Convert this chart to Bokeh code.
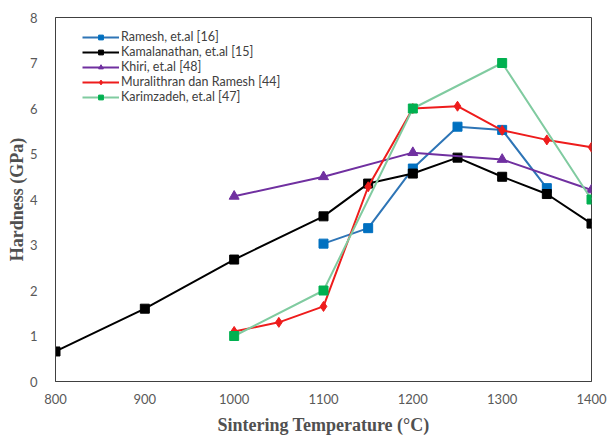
from bokeh.plotting import figure
from bokeh.models import Legend, LegendItem, Range1d, FixedTicker
from bokeh.embed import file_html
from bokeh.resources import INLINE

ramesh_x = [1100, 1150, 1200, 1250, 1300, 1350]
ramesh_y = [3.03, 3.37, 4.68, 5.60, 5.53, 4.25]

kamal_x = [800, 900, 1000, 1100, 1150, 1200, 1250, 1300, 1350, 1400]
kamal_y = [0.66, 1.60, 2.68, 3.63, 4.35, 4.57, 4.92, 4.50, 4.12, 3.47]

khiri_x = [1000, 1100, 1200, 1300, 1400]
khiri_y = [4.07, 4.50, 5.03, 4.88, 4.21]

mural_x = [1000, 1050, 1100, 1150, 1200, 1250, 1300, 1350, 1400]
mural_y = [1.10, 1.30, 1.65, 4.28, 6.00, 6.05, 5.52, 5.31, 5.15]

karim_x = [1000, 1100, 1200, 1300, 1400]
karim_y = [1.00, 2.00, 6.00, 7.00, 4.00]

x_ticks = [800, 900, 1000, 1100, 1200, 1300, 1400]
y_ticks = [0, 1, 2, 3, 4, 5, 6, 7, 8]

p = figure(frame_width=536, frame_height=364, output_backend="svg", toolbar_location=None,
           x_range=Range1d(800, 1400), y_range=Range1d(0, 8),
           min_border_left=55, min_border_right=16, min_border_top=17, min_border_bottom=56)
p.xgrid.visible = False
p.ygrid.visible = False
p.outline_line_color = "#404040"
p.outline_line_width = 1

items = []
r1 = p.line(ramesh_x, ramesh_y, line_color="#2e75b6", line_width=2)
m1 = p.scatter(ramesh_x, ramesh_y, marker="square", size=9, fill_color="#0070c0", line_color="#0070c0")
items.append(LegendItem(label="Ramesh, et.al [16]", renderers=[r1, m1]))
r2 = p.line(kamal_x, kamal_y, line_color="#000000", line_width=2)
m2 = p.scatter(kamal_x, kamal_y, marker="square", size=9, fill_color="#000000", line_color="#000000")
items.append(LegendItem(label="Kamalanathan, et.al [15]", renderers=[r2, m2]))
r3 = p.line(khiri_x, khiri_y, line_color="#7030a0", line_width=2)
m3 = p.scatter(khiri_x, khiri_y, marker="triangle", size=10, fill_color="#7030a0", line_color="#7030a0")
items.append(LegendItem(label="Khiri, et.al [48]", renderers=[r3, m3]))
r4 = p.line(mural_x, mural_y, line_color="#ee1c1c", line_width=2)
m4 = p.scatter(mural_x, mural_y, marker="diamond", size=10, fill_color="#ee1c1c", line_color="#ee1c1c")
items.append(LegendItem(label="Muralithran dan Ramesh [44]", renderers=[r4, m4]))
r5 = p.line(karim_x, karim_y, line_color="#80cba0", line_width=2)
m5 = p.scatter(karim_x, karim_y, marker="square", size=9, fill_color="#00b050", line_color="#00b050")
items.append(LegendItem(label="Karimzadeh, et.al [47]", renderers=[r5, m5]))

legend = Legend(items=items, location=(27, 277))
legend.border_line_color = None
legend.background_fill_alpha = 0
legend.label_text_font = "Lato"
legend.label_text_font_size = "12.5px"
legend.label_text_color = "#404040"
legend.label_height = 12
legend.glyph_height = 12
legend.glyph_width = 37
legend.spacing = 0
legend.padding = 4
legend.margin = 0
legend.label_standoff = 2
p.add_layout(legend)

for ax in (p.xaxis, p.yaxis):
    ax.major_tick_line_color = None
    ax.minor_tick_line_color = None
    ax.axis_line_color = "#404040"
    ax.major_label_text_font = "Lato"
    ax.major_label_text_font_size = "13px"
    ax.major_label_text_color = "#595959"
    ax.axis_label_text_font = "Liberation Serif"
    ax.axis_label_text_font_style = "bold"
    ax.axis_label_text_font_size = "18px"
    ax.axis_label_text_color = "#505050"

p.xaxis.ticker = FixedTicker(ticks=x_ticks)
p.yaxis.ticker = FixedTicker(ticks=y_ticks)
p.xaxis.axis_label = "Sintering Temperature (\u00b0C)"
p.yaxis.axis_label = "Hardness (GPa)"
p.xaxis.major_label_standoff = 6
p.yaxis.major_label_standoff = 12
p.xaxis.axis_label_standoff = 8
p.yaxis.axis_label_standoff = 0

open("out.html", "w").write(file_html(p, INLINE))
